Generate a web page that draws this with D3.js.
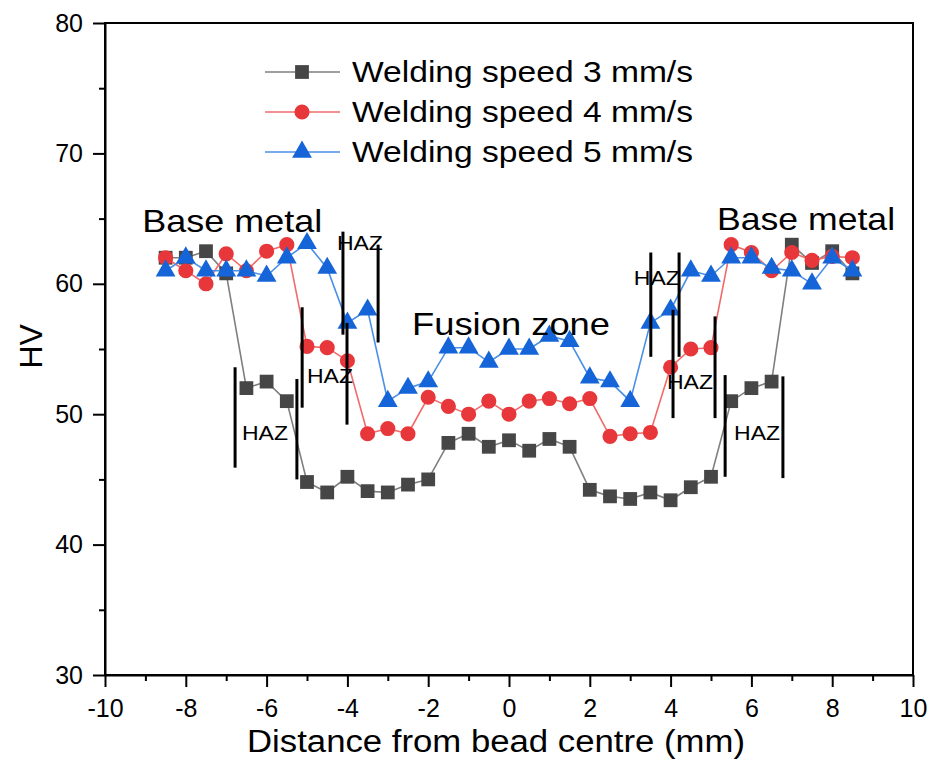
<!DOCTYPE html>
<html>
<head>
<meta charset="utf-8">
<script src="https://cdn.jsdelivr.net/npm/d3@7"></script>
<style>
  body { margin: 0; background: #fff; }
  svg text { font-family: "Liberation Sans", Arial, sans-serif; fill: #000; }
  .axis path, .axis line { stroke: #000; stroke-width: 2px; }
</style>
</head>
<body>
<div id="chart"></div>
<script>
/** data **/
var distance = [-8.5, -8, -7.5, -7, -6.5, -6, -5.5, -5, -4.5, -4, -3.5, -3, -2.5, -2, -1.5, -1, -0.5,
    0, 0.5, 1, 1.5, 2, 2.5, 3, 3.5, 4, 4.5, 5, 5.5, 6, 6.5, 7, 7.5, 8, 8.5];

var speed3 = [62.0, 62.0, 62.5, 60.8, 52.0, 52.5, 51.0, 44.8, 44.0, 45.2, 44.1, 44.0, 44.6, 45.0, 47.8, 48.5, 47.5,
    48.0, 47.2, 48.1, 47.5, 44.2, 43.7, 43.5, 44.0, 43.4, 44.4, 45.2, 51.0, 52.0, 52.5, 63.0, 61.6, 62.5, 60.8];
var speed4 = [62.0, 61.0, 60.0, 62.3, 61.0, 62.5, 63.0, 55.2, 55.1, 54.1, 48.5, 48.9, 48.5, 51.3, 50.6, 50.0, 51.0,
    50.0, 51.0, 51.2, 50.8, 51.2, 48.3, 48.5, 48.6, 53.6, 55.0, 55.1, 63.0, 62.4, 61.0, 62.4, 61.8, 62.1, 62.0];
var speed5 = [61.0, 62.0, 61.0, 61.0, 61.0, 60.6, 62.0, 63.1, 61.2, 57.0, 58.0, 51.0, 52.0, 52.5, 55.1, 55.1, 54.0,
    55.0, 55.0, 56.0, 55.6, 52.8, 52.5, 51.0, 57.0, 58.0, 61.0, 60.6, 62.0, 62.0, 61.2, 61.0, 60.0, 62.0, 61.0];

var seriesNames = ["Welding speed 3 mm/s", "Welding speed 4 mm/s", "Welding speed 5 mm/s"];

var xTicks = [-10, -8, -6, -4, -2, 0, 2, 4, 6, 8, 10];
var yTicks = [30, 40, 50, 60, 70, 80];

// HAZ boundary bars: [x, yFrom, yTo] in data units
var hazBars = [[-6.78, 53.6, 45.9], [-5.25, 52.7, 45.0], [-5.12, 58.2, 50.5], [-4.01, 57.0, 49.2],
    [-4.11, 64.0, 56.1], [-3.24, 63.0, 55.5], [3.51, 62.4, 54.4], [4.21, 62.4, 54.4],
    [4.06, 58.0, 49.7], [5.10, 57.5, 49.7], [5.35, 53.0, 45.2], [6.78, 52.9, 45.1]];
var hazLabelX = [-6.04, -4.43, -3.69, 3.66, 4.48, 6.14];
var hazLabelY = [48.0, 52.4, 62.6, 59.9, 51.9, 48.0];

var zoneLabels = ["Base metal", "Base metal", "Fusion zone"];
var zoneX = [-9.08, 5.15, -2.40];
var zoneY = [63.97, 64.1, 56.07];

/** canvas **/
var margin = {top: 23, right: 25, bottom: 94, left: 105},
    width = 938 - margin.left - margin.right,
    height = 769 - margin.top - margin.bottom;

var svg = d3.select("#chart").append("svg")
    .attr("width", 938)
    .attr("height", 769)
    .append("g")
    .attr("transform", "translate(" + margin.left + "," + margin.top + ")");

var x = d3.scaleLinear().domain([-10, 10]).range([0, width]);
var y = d3.scaleLinear().domain([30, 80]).range([height, 0]);

// plain hyphen like the original, not the unicode minus
var plain = function(d) { return String(d); };

// minor ticks first, then major
svg.append("g")
    .attr("class", "axis")
    .attr("transform", "translate(0," + height + ")")
    .call(d3.axisBottom(x).tickValues([-9, -7, -5, -3, -1, 1, 3, 5, 7, 9]).tickSize(6).tickFormat(""))
    .select(".domain").remove();
svg.append("g")
    .attr("class", "axis")
    .call(d3.axisLeft(y).tickValues([35, 45, 55, 65, 75]).tickSize(6).tickFormat(""))
    .select(".domain").remove();

var xAxisG = svg.append("g")
    .attr("class", "axis")
    .attr("transform", "translate(0," + height + ")")
    .call(d3.axisBottom(x).tickValues(xTicks).tickSize(12).tickPadding(12).tickSizeOuter(0).tickFormat(plain));
xAxisG.selectAll("text")
    .attr("dy", "0.72em")
    .style("font-size", "25px");

var yAxisG = svg.append("g")
    .attr("class", "axis")
    .call(d3.axisLeft(y).tickValues(yTicks).tickSize(12).tickPadding(10).tickSizeOuter(0).tickFormat(plain));
yAxisG.selectAll("text")
    .style("font-size", "25px");

// frame
svg.append("rect")
    .attr("width", width)
    .attr("height", height)
    .attr("fill", "none")
    .attr("stroke", "#000")
    .attr("stroke-width", 2);

// axis titles
svg.append("text")
    .attr("x", 496 - margin.left)
    .attr("y", height + 77)
    .attr("text-anchor", "middle")
    .attr("textLength", 498)
    .attr("lengthAdjust", "spacingAndGlyphs")
    .style("font-size", "31px")
    .text("Distance from bead centre (mm)");

svg.append("text")
    .attr("transform", "translate(-63," + (y(55.2)) + ") rotate(-90)")
    .attr("text-anchor", "middle")
    .style("font-size", "32px")
    .text("HV");

/** series **/
var series = [
    {name: seriesNames[0], values: speed3, line: "#7f7f7f", fill: "#464646", shape: d3.symbolSquare, size: 190},
    {name: seriesNames[1], values: speed4, line: "#f26b6b", fill: "#e8373a", shape: d3.symbolCircle, size: 180},
    {name: seriesNames[2], values: speed5, line: "#4a8fe6", fill: "#1565d8", shape: d3.symbolTriangle, size: 170}
];

var line = d3.line()
    .x(function(d) { return x(d[0]); })
    .y(function(d) { return y(d[1]); });

series.forEach(function(s) {
    var pts = distance.map(function(d, i) { return [d, s.values[i]]; });

    svg.append("path")
        .datum(pts)
        .attr("d", line)
        .attr("fill", "none")
        .attr("stroke", s.line)
        .attr("stroke-width", 1.6);

    svg.selectAll(null)
        .data(pts)
        .enter().append("path")
        .attr("d", d3.symbol().type(s.shape).size(s.size))
        .attr("transform", function(d) { return "translate(" + x(d[0]) + "," + y(d[1]) + ")"; })
        .attr("fill", s.fill);
});

/** annotations **/
svg.selectAll(".haz")
    .data(hazBars)
    .enter().append("line")
    .attr("class", "haz")
    .attr("x1", function(d) { return x(d[0]); })
    .attr("x2", function(d) { return x(d[0]); })
    .attr("y1", function(d) { return y(d[1]); })
    .attr("y2", function(d) { return y(d[2]); })
    .attr("stroke", "#000")
    .attr("stroke-width", 3);

svg.selectAll(".hazlabel")
    .data(hazLabelX)
    .enter().append("text")
    .attr("class", "hazlabel")
    .attr("x", function(d) { return x(d); })
    .attr("y", function(d, i) { return y(hazLabelY[i]); })
    .attr("text-anchor", "middle")
    .attr("textLength", 46)
    .attr("lengthAdjust", "spacingAndGlyphs")
    .style("font-size", "21px")
    .text("HAZ");

var zoneWidth = [180, 178, 198];
svg.selectAll(".zone")
    .data(zoneLabels)
    .enter().append("text")
    .attr("class", "zone")
    .attr("x", function(d, i) { return x(zoneX[i]); })
    .attr("y", function(d, i) { return y(zoneY[i]); })
    .attr("textLength", function(d, i) { return zoneWidth[i]; })
    .attr("lengthAdjust", "spacingAndGlyphs")
    .style("font-size", "32px")
    .text(function(d) { return d; });

/** legend **/
var legend = svg.append("g")
    .attr("transform", "translate(" + (265 - margin.left) + "," + (72 - margin.top) + ")");

series.forEach(function(s, i) {
    var row = legend.append("g").attr("transform", "translate(0," + (i * 40) + ")");
    row.append("line")
        .attr("x1", 0).attr("x2", 75)
        .attr("stroke", s.line)
        .attr("stroke-width", 1.6);
    row.append("path")
        .attr("d", d3.symbol().type(s.shape).size(s.size))
        .attr("transform", "translate(37,0)")
        .attr("fill", s.fill);
    row.append("text")
        .attr("x", 87)
        .attr("dy", "0.36em")
        .attr("textLength", 341)
        .attr("lengthAdjust", "spacingAndGlyphs")
        .style("font-size", "29px")
        .text(s.name);
});
</script>
</body>
</html>
